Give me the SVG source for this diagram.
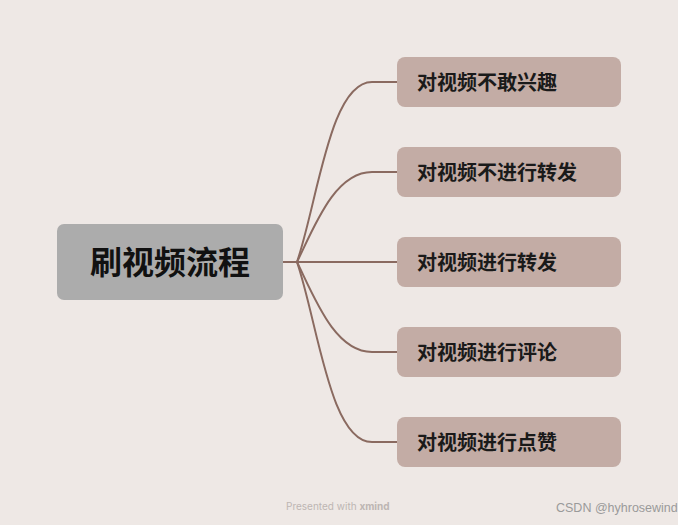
<svg xmlns="http://www.w3.org/2000/svg" width="678" height="525" viewBox="0 0 678 525">
<style>
.c{fill:none;stroke:#8a6a60;stroke-width:2}
.n{fill:#c3aca5}
.t{font-family:"Noto Sans CJK SC","Noto Sans",sans-serif;font-weight:bold;font-size:20px;fill:#1a1a1a}
</style>
<rect width="678" height="525" fill="#eee8e5"/>
<g id="connectors">
<path class="c" d="M283 262 H297"/>
<path class="c" d="M297 262 C318 200 330 82 372 82 H397"/>
<path class="c" d="M297 262 C315 225 335 172 372 172 H397"/>
<path class="c" d="M297 262 H397"/>
<path class="c" d="M297 262 C315 299 335 352 372 352 H397"/>
<path class="c" d="M297 262 C318 324 330 442 372 442 H397"/>
</g>
<g id="root">
<rect x="57" y="224" width="226" height="76" rx="7" fill="#acacac"/>
<text x="170" y="274" text-anchor="middle" font-family="Noto Sans CJK SC,sans-serif" font-weight="bold" font-size="32" fill="#111">刷视频流程</text>
</g>
<g id="n1"><rect class="n" x="397" y="57" width="224" height="50" rx="8"/><text class="t" x="417" y="90">对视频不敢兴趣</text></g>
<g id="n2"><rect class="n" x="397" y="147" width="224" height="50" rx="8"/><text class="t" x="417" y="180">对视频不进行转发</text></g>
<g id="n3"><rect class="n" x="397" y="237" width="224" height="50" rx="8"/><text class="t" x="417" y="270">对视频进行转发</text></g>
<g id="n4"><rect class="n" x="397" y="327" width="224" height="50" rx="8"/><text class="t" x="417" y="360">对视频进行评论</text></g>
<g id="n5"><rect class="n" x="397" y="417" width="224" height="50" rx="8"/><text class="t" x="417" y="450">对视频进行点赞</text></g>
<text x="286" y="510" font-family="Inter,sans-serif" font-size="10" fill="#bdb6b3">Presented with <tspan font-weight="bold">xmind</tspan></text>
<text x="556" y="512" font-family="Liberation Sans,sans-serif" font-size="12.5" fill="#9a9a9a">CSDN @hyhrosewind</text>
</svg>
